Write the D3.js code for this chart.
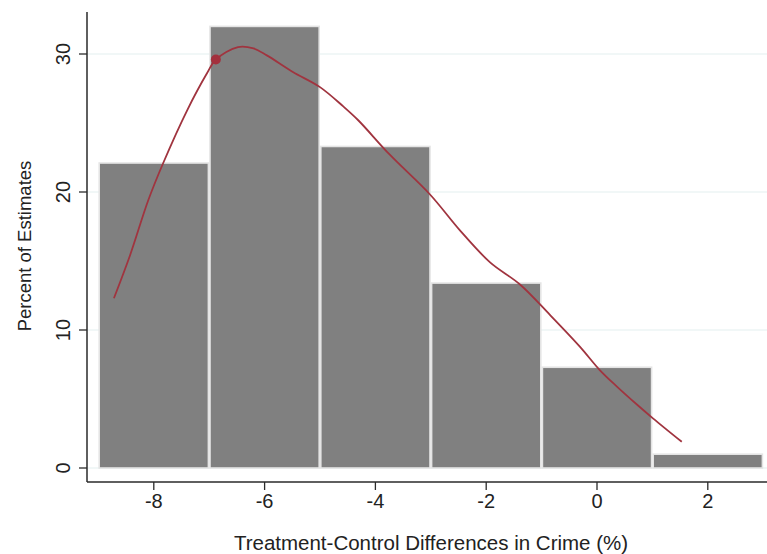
<!DOCTYPE html>
<html>
<head>
<meta charset="utf-8">
<script src="https://cdn.jsdelivr.net/npm/d3@7"></script>
<style>
  html, body { margin: 0; padding: 0; background: #fff; }
  svg { display: block; font-family: "Liberation Sans", Arial, sans-serif; }
</style>
</head>
<body>
<svg id="chart" width="767" height="554"></svg>
<script>
// ── Data ──────────────────────────────────────────────────────────────────
const binStarts = [-9, -7, -5, -3, -1, 1];
const binWidth  = 2;
const binPct    = [22.1, 32.0, 23.3, 13.4, 7.3, 1.0];

// smoothed density curve
const curveX = [-8.72, -8.43, -8.1, -7.83, -7.4, -7.04, -6.88, -6.48, -6.2, -5.96, -5.49, -5.0, -4.58, -4.31, -3.74, -3.01, -2.47, -1.93, -1.39, -0.85, -0.31, 0.05, 0.36, 0.72, 1.01, 1.53];
const curveY = [12.3, 15.4, 19.4, 22.1, 25.9, 28.6, 29.6, 30.5, 30.4, 29.9, 28.7, 27.6, 26.2, 25.2, 22.7, 19.8, 17.2, 14.9, 13.3, 11.1, 8.8, 7.1, 5.9, 4.6, 3.6, 1.9];
const markX = -6.88, markY = 29.6;

const xTicks = [-8, -6, -4, -2, 0, 2];
const yTicks = [0, 10, 20, 30];

// ── Layout ────────────────────────────────────────────────────────────────
const AXIS_X_LEFT = 87;
const AXIS_Y_POS  = 482;
const svg = d3.select("#chart");

const x = d3.scaleLinear().domain([0, 2]).range([597, 707.8]);
const y = d3.scaleLinear().domain([0, 30]).range([468, 54]);

// ── Grid lines ───────────────────────────────────────────────────────────
svg.append("g").selectAll("line").data(yTicks).join("line")
  .attr("x1", AXIS_X_LEFT).attr("x2", 767)
  .attr("y1", d => y(d)).attr("y2", d => y(d))
  .attr("stroke", "#e3eff0").attr("stroke-width", 1.2);

// ── Bars ─────────────────────────────────────────────────────────────────
svg.append("g").selectAll("rect").data(binStarts).join("rect")
  .attr("x", d => x(d) + 0.8)
  .attr("width", d => x(d + binWidth) - x(d) - 1.6)
  .attr("y", (d, i) => y(binPct[i]))
  .attr("height", (d, i) => y(0) - y(binPct[i]))
  .attr("fill", "#808080")
  .attr("stroke", "#e4e4e4")
  .attr("stroke-width", 1.6);

// ── Density curve ────────────────────────────────────────────────────────
const line = d3.line()
  .x(d => x(d[0])).y(d => y(d[1]))
  .curve(d3.curveCatmullRom.alpha(0.5));

svg.append("path")
  .datum(curveX.map((v, i) => [v, curveY[i]]))
  .attr("d", line)
  .attr("fill", "none")
  .attr("stroke", "#a0343f")
  .attr("stroke-width", 1.8);

svg.append("circle")
  .attr("cx", x(markX)).attr("cy", y(markY)).attr("r", 5)
  .attr("fill", "#a3303d");

// ── Axes ─────────────────────────────────────────────────────────────────
const axisColor = "#2a2a2a";

// y axis
svg.append("line")
  .attr("x1", AXIS_X_LEFT).attr("x2", AXIS_X_LEFT)
  .attr("y1", 12).attr("y2", AXIS_Y_POS)
  .attr("stroke", axisColor).attr("stroke-width", 1.5);

const yt = svg.append("g").selectAll("g").data(yTicks).join("g");
yt.append("line")
  .attr("x1", AXIS_X_LEFT - 8).attr("x2", AXIS_X_LEFT)
  .attr("y1", d => y(d)).attr("y2", d => y(d))
  .attr("stroke", axisColor).attr("stroke-width", 1.3);
yt.append("text")
  .attr("transform", d => `translate(70, ${y(d)}) rotate(-90)`)
  .attr("text-anchor", "middle")
  .attr("font-size", "20px")
  .attr("fill", "#222")
  .text(d => d);

// x axis
svg.append("line")
  .attr("x1", AXIS_X_LEFT).attr("x2", 767)
  .attr("y1", AXIS_Y_POS).attr("y2", AXIS_Y_POS)
  .attr("stroke", axisColor).attr("stroke-width", 1.5);

const xt = svg.append("g").selectAll("g").data(xTicks).join("g");
xt.append("line")
  .attr("x1", d => x(d)).attr("x2", d => x(d))
  .attr("y1", AXIS_Y_POS).attr("y2", AXIS_Y_POS + 8)
  .attr("stroke", axisColor).attr("stroke-width", 1.3);
xt.append("text")
  .attr("x", d => x(d)).attr("y", 508)
  .attr("text-anchor", "middle")
  .attr("font-size", "20px")
  .attr("fill", "#222")
  .text(d => d);

// titles
svg.append("text")
  .attr("x", 431).attr("y", 550)
  .attr("text-anchor", "middle")
  .attr("font-size", "20.5px")
  .attr("fill", "#222")
  .text("Treatment-Control Differences in Crime (%)");

svg.append("text")
  .attr("transform", "translate(31, 246) rotate(-90)")
  .attr("text-anchor", "middle")
  .attr("font-size", "18.5px")
  .attr("fill", "#222")
  .text("Percent of Estimates");
</script>
</body>
</html>
